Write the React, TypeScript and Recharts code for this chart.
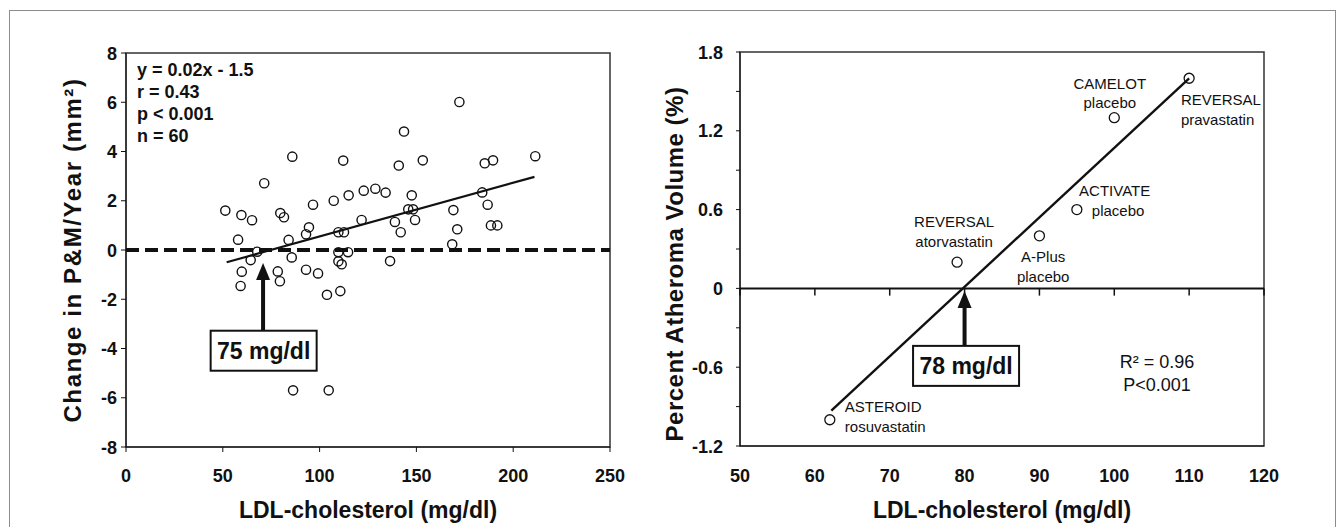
import React from 'react';
import {
  ScatterChart,
  Scatter,
  XAxis,
  YAxis,
  ReferenceLine,
  ReferenceArea,
  ReferenceDot,
} from 'recharts';

const FONT = '"Liberation Sans", Arial, Helvetica, sans-serif';
const INK = '#111';

// left panel: individual patients, LDL vs change in plaque & media area
const patientLdl = [
  51.3, 59.6, 65.1, 57.9, 67.8, 64.4, 59.8, 59.2, 71.4, 79.7,
  81.6, 78.4, 79.5, 84.0, 85.6, 85.9, 86.3, 94.5, 93.0, 96.6,
  93.0, 99.2, 103.8, 104.7, 107.3, 109.7, 112.6, 109.7, 114.7, 109.7,
  111.4, 110.7, 112.2, 115.0, 121.7, 122.8, 128.8, 134.1, 136.4, 138.9,
  140.9, 143.6, 141.9, 145.8, 148.3, 147.6, 149.3, 153.3, 168.5, 169.1,
  171.1, 172.2, 184.0, 185.3, 186.8, 188.5, 191.8, 189.6, 211.4,
];
const patientChange = [
  1.6, 1.42, 1.21, 0.42, -0.07, -0.41, -0.88, -1.46, 2.71, 1.5,
  1.33, -0.87, -1.27, 0.41, -0.3, 3.79, -5.7, 0.92, 0.64, 1.84,
  -0.8, -0.95, -1.82, -5.7, 2.0, 0.72, 0.72, -0.09, -0.09, -0.46,
  -0.58, -1.67, 3.63, 2.22, 1.22, 2.41, 2.49, 2.33, -0.45, 1.14,
  3.43, 4.81, 0.72, 1.65, 1.65, 2.22, 1.22, 3.64, 0.23, 1.62,
  0.84, 6.01, 2.34, 3.52, 1.84, 1.0, 1.0, 3.64, 3.81,
];
const leftFitLdl = [52, 211];
const leftFitChange = [-0.5, 2.97];
const leftXTicks = [0, 50, 100, 150, 200, 250];
const leftYTicks = [-8, -6, -4, -2, 0, 2, 4, 6, 8];
const leftStats = ['y = 0.02x - 1.5', 'r = 0.43', 'p < 0.001', 'n = 60'];
const leftThreshold = '75 mg/dl';

// right panel: trial means, LDL vs change in percent atheroma volume
const trialNames = ['ASTEROID', 'REVERSAL', 'A-Plus', 'ACTIVATE', 'CAMELOT', 'REVERSAL'];
const trialArms = ['rosuvastatin', 'atorvastatin', 'placebo', 'placebo', 'placebo', 'pravastatin'];
const trialLdl = [62, 79, 90, 95, 100, 110];
const trialPav = [-1.0, 0.2, 0.4, 0.6, 1.3, 1.6];
const rightFitLdl = [62.2, 110];
const rightFitPav = [-0.93, 1.6];
const rightXTicks = [50, 60, 70, 80, 90, 100, 110, 120];
const rightYTicks = [-1.2, -0.9, -0.6, -0.3, 0, 0.3, 0.6, 0.9, 1.2, 1.5, 1.8];
const rightStats = ['R\u00B2 = 0.96', 'P<0.001'];
const rightThreshold = '78 mg/dl';

// where each trial's caption sits (data units) and how it is aligned
const trialLabelSpots = [
  { x: 64.0, y: -0.9, anchor: 'start', armShift: 0 },
  { x: 78.6, y: 0.508, anchor: 'middle', armShift: 0 },
  { x: 90.5, y: 0.241, anchor: 'middle', armShift: 0 },
  { x: 95.3, y: 0.742, anchor: 'start', armShift: 12.7 },
  { x: 99.4, y: 1.562, anchor: 'middle', armShift: 0 },
  { x: 108.9, y: 1.435, anchor: 'start', armShift: 0 },
];

const patients = patientLdl.map((x, i) => ({ x, y: patientChange[i] }));
const leftFit = leftFitLdl.map((x, i) => ({ x, y: leftFitChange[i] }));
const trials = trialLdl.map((x, i) => ({ x, y: trialPav[i] }));
const rightFit = rightFitLdl.map((x, i) => ({ x, y: rightFitPav[i] }));

const majorPav = (v: number) => Math.round(v * 10) % 6 === 0;

const XTick = (props: any) => (
  <text
    x={props.x}
    y={props.y}
    dy={13}
    textAnchor="middle"
    fontSize={18}
    fontWeight={700}
    fontFamily={FONT}
    fill={INK}
  >
    {props.payload.value}
  </text>
);

const YTick = (fmt: (v: number) => string) => (props: any) => (
  <text
    x={props.x}
    y={props.y}
    dy={6.5}
    textAnchor="end"
    fontSize={18}
    fontWeight={700}
    fontFamily={FONT}
    fill={INK}
  >
    {fmt(props.payload.value)}
  </text>
);

const OpenCircle = (r: number, sw: number) => (props: any) => (
  <circle cx={props.cx} cy={props.cy} r={r} fill="none" stroke={INK} strokeWidth={sw} />
);

const NoDot = () => <g />;

// vertical arrow: tip at (x1,y1), tail at (x2,y2)
const Arrow = (props: any) => {
  const { x1, y1, y2 } = props;
  const head = 17;
  return (
    <g>
      <line x1={x1} y1={y1 + head - 2} x2={x1} y2={y2} stroke={INK} strokeWidth={4} />
      <polygon points={`${x1},${y1} ${x1 - 7},${y1 + head} ${x1 + 7},${y1 + head}`} fill={INK} />
    </g>
  );
};

const BoxedText = (text: string) => (props: any) => (
  <g>
    <rect x={props.cx - 53} y={props.cy - 20} width={106} height={40} fill="#fff" stroke={INK} strokeWidth={2} />
    <text
      x={props.cx}
      y={props.cy + 8}
      textAnchor="middle"
      fontSize={23}
      fontWeight={700}
      fontFamily={FONT}
      fill={INK}
    >
      {text}
    </text>
  </g>
);

const TextLines = (lines: string[], opts: any) => (props: any) => (
  <g>
    {lines.map((t, i) => (
      <text
        key={i}
        x={props.cx + (i > 0 ? opts.shift || 0 : 0)}
        y={props.cy + i * opts.gap + opts.size * 0.36}
        textAnchor={opts.anchor}
        fontSize={opts.size}
        fontWeight={opts.weight}
        fontFamily={FONT}
        fill={INK}
      >
        {t}
      </text>
    ))}
  </g>
);

const LeftPanel = () => (
  <ScatterChart width={650} height={527} margin={{ top: 53, right: 40, bottom: 50, left: 66 }}>
    <ReferenceArea x1={0} x2={250} y1={-8} y2={8} fill="none" stroke="#333" strokeWidth={1.5} />
    <XAxis
      type="number"
      dataKey="x"
      domain={[0, 250]}
      ticks={leftXTicks}
      interval={0}
      height={30}
      tickSize={5}
      tickMargin={17}
      stroke={INK}
      tick={XTick}
    />
    <YAxis
      type="number"
      dataKey="y"
      domain={[-8, 8]}
      ticks={leftYTicks}
      interval={0}
      width={60}
      tickSize={5}
      tickMargin={4}
      stroke={INK}
      tick={YTick((v) => String(v))}
    />
    <ReferenceLine y={0} stroke={INK} strokeWidth={4} strokeDasharray="13 6" />
    <Scatter data={patients} shape={OpenCircle(4.6, 1.4)} isAnimationActive={false} />
    <Scatter
      data={leftFit}
      line={{ stroke: INK, strokeWidth: 2.2 }}
      shape={NoDot}
      isAnimationActive={false}
    />
    <ReferenceLine
      segment={[{ x: 70.8, y: -0.53 }, { x: 70.8, y: -3.28 }]}
      shape={Arrow}
    />
    <ReferenceDot x={71.1} y={-4.09} shape={BoxedText(leftThreshold)} />
    <ReferenceDot
      x={5.7}
      y={7.31}
      shape={TextLines(leftStats, { anchor: 'start', gap: 21.7, size: 18, weight: 700 })}
    />
  </ScatterChart>
);

const RightPanel = () => (
  <ScatterChart width={691} height={527} margin={{ top: 52, right: 77, bottom: 51, left: 30 }}>
    <ReferenceArea x1={50} x2={120} y1={-1.2} y2={1.8} fill="none" stroke="#333" strokeWidth={1.5} />
    <XAxis
      type="number"
      dataKey="x"
      domain={[50, 120]}
      ticks={rightXTicks}
      interval={0}
      height={30}
      tickLine={false}
      tickSize={0}
      tickMargin={23}
      stroke={INK}
      tick={XTick}
    />
    <YAxis
      type="number"
      dataKey="y"
      domain={[-1.2, 1.8]}
      ticks={rightYTicks}
      interval={0}
      width={60}
      tickSize={4}
      tickMargin={13}
      stroke={INK}
      tick={YTick((v) => (majorPav(v) ? String(Math.round(v * 10) / 10) : ''))}
    />
    <ReferenceLine y={0} stroke={INK} strokeWidth={2} />
    {rightXTicks.map((t) => (
      <ReferenceLine
        key={t}
        segment={[{ x: t, y: 0 }, { x: t, y: -0.055 }]}
        stroke={INK}
        strokeWidth={1.5}
      />
    ))}
    <Scatter
      data={rightFit}
      line={{ stroke: INK, strokeWidth: 2.4 }}
      shape={NoDot}
      isAnimationActive={false}
    />
    <Scatter data={trials} shape={OpenCircle(5, 1.3)} isAnimationActive={false} />
    {trialLabelSpots.map((s, i) => (
      <ReferenceDot
        key={i}
        x={s.x}
        y={s.y}
        shape={TextLines([trialNames[i], trialArms[i]], {
          anchor: s.anchor,
          gap: 19.5,
          size: 15,
          weight: 400,
          shift: s.armShift,
        })}
      />
    ))}
    <ReferenceLine
      segment={[{ x: 80, y: -0.02 }, { x: 80, y: -0.44 }]}
      shape={Arrow}
    />
    <ReferenceDot x={80.2} y={-0.59} shape={BoxedText(rightThreshold)} />
    <ReferenceDot
      x={105.7}
      y={-0.56}
      shape={TextLines(rightStats, { anchor: 'middle', gap: 23, size: 18, weight: 400 })}
    />
  </ScatterChart>
);

const titleStyle: React.CSSProperties = {
  position: 'absolute',
  fontFamily: FONT,
  fontWeight: 700,
  fontSize: 23,
  color: INK,
  whiteSpace: 'nowrap',
  lineHeight: 1,
};

export default function App() {
  return (
    <div
      style={{
        position: 'absolute',
        left: 0,
        top: 0,
        width: 1341,
        height: 527,
        background: '#fff',
        overflow: 'hidden',
      }}
    >
      <div
        style={{
          position: 'absolute',
          left: 9,
          top: 10,
          width: 1327,
          height: 540,
          border: '1.5px solid #8c8c8c',
          boxSizing: 'border-box',
        }}
      />
      <div style={{ position: 'absolute', left: 0, top: 0 }}>
        <LeftPanel />
      </div>
      <div style={{ position: 'absolute', left: 650, top: 0 }}>
        <RightPanel />
      </div>
      <div style={{ ...titleStyle, left: 368, top: 510, transform: 'translate(-50%, -50%)' }}>
        LDL-cholesterol (mg/dl)
      </div>
      <div style={{ ...titleStyle, left: 1002, top: 510, transform: 'translate(-50%, -50%)' }}>
        LDL-cholesterol (mg/dl)
      </div>
      <div
        style={{
          ...titleStyle,
          fontSize: 24,
          letterSpacing: 1.6,
          left: 73,
          top: 250,
          transform: 'translate(-50%, -50%) rotate(-90deg)',
        }}
      >
        Change in P&amp;M/Year (mm&#178;)
      </div>
      <div
        style={{
          ...titleStyle,
          fontSize: 24,
          letterSpacing: 0.5,
          left: 675,
          top: 264,
          transform: 'translate(-50%, -50%) rotate(-90deg)',
        }}
      >
        Percent Atheroma Volume (%)
      </div>
    </div>
  );
}
